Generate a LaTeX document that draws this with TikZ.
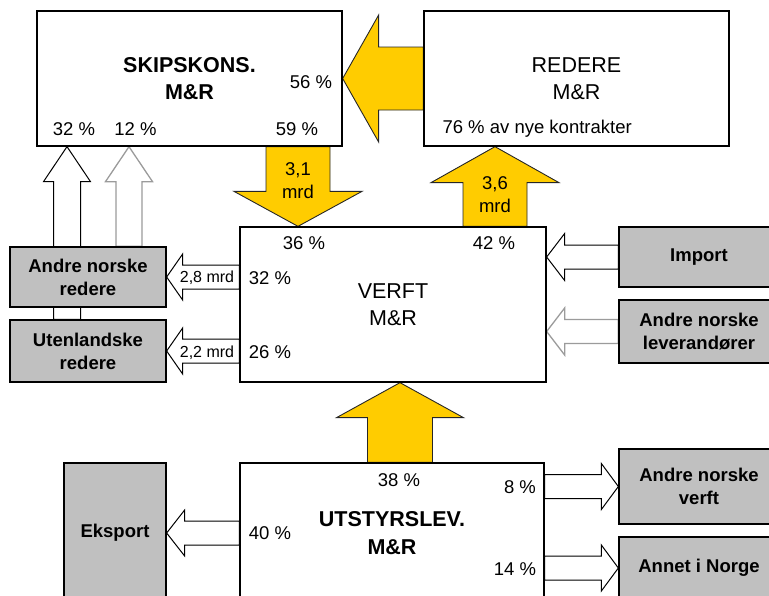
\documentclass[tikz,border=0pt]{standalone}
\usepackage{fontspec}
\setmainfont{Liberation Sans}
\usetikzlibrary{calc,backgrounds}
\definecolor{ylw}{RGB}{255,204,0}
\definecolor{boxgray}{RGB}{192,192,192}
\definecolor{arrgray}{RGB}{155,155,155}
\newcommand{\bigfnt}{\fontsize{21.5}{27.5}\selectfont}
\newcommand{\midfnt}{\fontsize{18.5}{22.8}\selectfont}
\newcommand{\smlfnt}{\fontsize{16}{19}\selectfont}
% block arrow: style, tail, tip, shaft half width, head half width, head length
\newcommand{\blk}[6]{%
  \draw[#1] let \p1=(#2), \p2=(#3),
    \n1={scalar(abs(\x1-\x2)+abs(\y1-\y2))}, \n2={scalar(atan2(\y1-\y2,\x1-\x2))} in
    {[shift={(\p2)},rotate=\n2] (0pt,0pt) -- (#6pt,#5pt) -- (#6pt,#4pt) -- (\n1pt,#4pt)
     -- (\n1pt,-#4pt) -- (#6pt,-#4pt) -- (#6pt,-#5pt) -- cycle};}

\begin{document}
\begin{tikzpicture}[x=1pt,y=-1pt,font=\midfnt]
\tikzset{box/.style={draw,fill=white,line width=1.3pt,align=center,inner sep=0pt}}
\tikzset{gbox/.style={draw,fill=boxgray,line width=1.3pt,align=center,inner sep=0pt,font=\midfnt\bfseries}}
\tikzset{yarr/.style={fill=ylw,draw=black!85,line width=0.9pt}}
\tikzset{warr/.style={fill=white,draw=black,line width=1pt}}
\tikzset{garr/.style={fill=white,draw=arrgray,line width=1.3pt}}
\useasboundingbox (0,0) rectangle (769,595);
\clip (0,0) rectangle (769,595);

\node [box,minimum width=305pt,minimum height=135pt,font=\bigfnt\bfseries] (skip) at (189.5,78.5) {SKIPSKONS.\\M\&R};
\node [box,minimum width=305pt,minimum height=135pt,font=\bigfnt] (red) at (576.5,78.5) {REDERE\\M\&R};
\node [box,minimum width=306pt,minimum height=155pt,font=\bigfnt] (verft) at (393,304.5) {VERFT\\M\&R};
\node [box,minimum width=304pt,minimum height=140pt,font=\bigfnt\bfseries] (utst) at (392,533) {UTSTYRSLEV.\\M\&R};
\node [gbox,minimum width=156pt,minimum height=60pt] (anr) at (88,277) {Andre norske\\redere};
\node [gbox,minimum width=156pt,minimum height=62pt] (ute) at (88,351) {Utenlandske\\redere};
\node [gbox,minimum width=160pt,minimum height=60pt] (imp) at (699,257) {Import};
\node [gbox,minimum width=160pt,minimum height=63pt] (lev) at (699,331.5) {Andre norske\\leverandører};
\node [gbox,minimum width=102pt,minimum height=140pt] (eks) at (115,533) {Eksport};
\node [gbox,minimum width=160pt,minimum height=75pt] (anv) at (699,486.5) {Andre norske\\verft};
\node [gbox,minimum width=160pt,minimum height=62pt] (ann) at (699,568) {Annet i Norge};

\begin{pgfonlayer}{background}
\blk{yarr}{red.west}{skip.east}{31.5}{63.5}{36}
\blk{yarr}{skip.south -| 298,0}{verft.north -| 298,0}{32}{64}{35}
\blk{yarr}{verft.north -| 495,0}{red.south -| 495,0}{32}{64}{36}
\blk{yarr}{utst.north -| 400,0}{verft.south -| 400,0}{32.5}{63.5}{35}
\blk{warr}{ute.north -| 67,0}{skip.south -| 67,0}{13.5}{23.5}{35}
\blk{garr}{anr.north -| 129,0}{skip.south -| 129,0}{13}{23.5}{35}
\blk{warr}{verft.west |- anr.east}{anr.east}{12}{23}{16}
\blk{warr}{verft.west |- ute.east}{ute.east}{12}{23}{16}
\blk{warr}{imp.west}{verft.east |- imp.west}{12}{23.5}{18}
\blk{garr}{lev.west}{verft.east |- lev.west}{12}{23.5}{18}
\blk{warr}{utst.west}{eks.east}{12}{23}{18}
\blk{warr}{utst.east |- anv.west}{anv.west}{12}{23}{17}
\blk{warr}{utst.east |- ann.west}{ann.west}{12}{23}{17}
\end{pgfonlayer}

% figures
\node (s56) at (311,82) {56 \%};
\node (s32) at (74,129) {32 \%};
\node (s12) at (135.5,129) {12 \%};
\node (s59) at (297,129) {59 \%};
\node [anchor=west] (r76) at (439,129) {76 \% av nye kontrakter};
\node [align=center] (m31) at (298,181) {3,1\\mrd};
\node [align=center] (m36) at (495,195) {3,6\\mrd};
\node (v36) at (304,243) {36 \%};
\node (v42) at (494,243) {42 \%};
\node (v32) at (270,278) {32 \%};
\node (v26) at (270,352) {26 \%};
\node [font=\smlfnt] (m28) at (207,278) {2,8 mrd};
\node [font=\smlfnt] (m22) at (207,353) {2,2 mrd};
\node (u38) at (399,480) {38 \%};
\node (u8) at (520,487) {8 \%};
\node (u14) at (515,569) {14 \%};
\node (u40) at (270,533) {40 \%};
\end{tikzpicture}
\end{document}
